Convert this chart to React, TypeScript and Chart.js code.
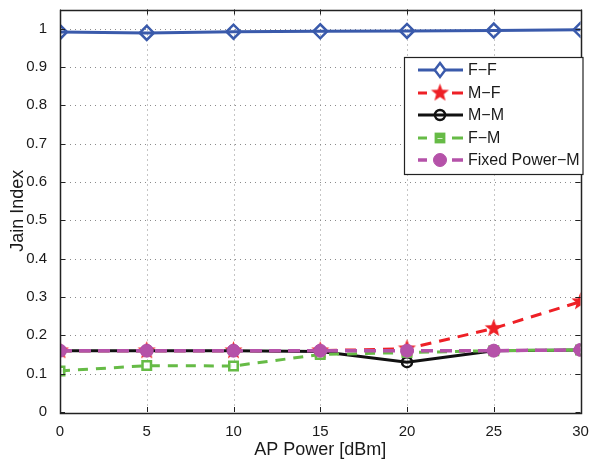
import { useEffect, useRef } from 'react';
import { Chart, registerables } from 'chart.js';

Chart.register(...registerables);

const apPower = [0, 5, 10, 15, 20, 25, 30];
const seriesNames = ['F\u2212F', 'M\u2212F', 'M\u2212M', 'F\u2212M', 'Fixed Power\u2212M'];
const ffValues = [0.991, 0.989, 0.992, 0.993, 0.994, 0.995, 0.997];
const mfValues = [0.16, 0.16, 0.16, 0.16, 0.165, 0.218, 0.288];
const mmValues = [0.16, 0.16, 0.16, 0.158, 0.13, 0.16, 0.162];
const fmValues = [0.107, 0.121, 0.12, 0.15, 0.155, 0.16, 0.162];
const fixedValues = [0.16, 0.16, 0.16, 0.16, 0.16, 0.16, 0.162];
const xTickValues = [0, 5, 10, 15, 20, 25, 30];
const yTickValues = [0, 0.1, 0.2, 0.3, 0.4, 0.5, 0.6, 0.7, 0.8, 0.9, 1];

const BLUE = '#3a5aab';
const RED = '#ee2026';
const BLACK = '#111111';
const GREEN = '#66bb46';
const MAGENTA = '#b552a9';
const FONT = "'Liberation Sans', Arial, Helvetica, sans-serif";

function makeStar(color: string, r: number): HTMLCanvasElement {
  const c = document.createElement('canvas');
  const size = Math.ceil(r * 2 + 2);
  c.width = size;
  c.height = size;
  const ctx = c.getContext('2d')!;
  const cx = size / 2;
  const cy = size / 2;
  ctx.beginPath();
  for (let i = 0; i < 10; i++) {
    const ang = -Math.PI / 2 + (i * Math.PI) / 5;
    const rad = i % 2 === 0 ? r : r * 0.42;
    const x = cx + rad * Math.cos(ang);
    const y = cy + rad * Math.sin(ang);
    if (i === 0) ctx.moveTo(x, y);
    else ctx.lineTo(x, y);
  }
  ctx.closePath();
  ctx.fillStyle = color;
  ctx.fill();
  return c;
}

export default function App() {
  const ref = useRef<HTMLCanvasElement>(null);

  useEffect(() => {
    const canvas = ref.current!;
    const star = makeStar(RED, 9.5);

    const frame = {
      id: 'frame',
      beforeDatasetsDraw(chart: any) {
        const { ctx, chartArea: a, scales } = chart;
        ctx.save();
        ctx.strokeStyle = '#8a8a8a';
        ctx.lineWidth = 1;
        ctx.setLineDash([1, 4]);
        xTickValues.forEach((v) => {
          const x = Math.round(scales.x.getPixelForValue(v)) + 0.5;
          if (v === 0 || v === 30) return;
          ctx.beginPath();
          ctx.moveTo(x, a.top);
          ctx.lineTo(x, a.bottom);
          ctx.stroke();
        });
        yTickValues.forEach((v) => {
          if (v === 0) return;
          const y = Math.round(scales.y.getPixelForValue(v)) + 0.5;
          ctx.beginPath();
          ctx.moveTo(a.left, y);
          ctx.lineTo(a.right, y);
          ctx.stroke();
        });
        ctx.restore();
      },
      afterDraw(chart: any) {
        const { ctx, chartArea: a, scales } = chart;
        ctx.save();
        ctx.strokeStyle = '#222';
        ctx.lineWidth = 1;
        ctx.setLineDash([]);
        xTickValues.forEach((v) => {
          const x = Math.round(scales.x.getPixelForValue(v)) + 0.5;
          ctx.beginPath();
          ctx.moveTo(x, a.bottom);
          ctx.lineTo(x, a.bottom - 5);
          ctx.moveTo(x, a.top);
          ctx.lineTo(x, a.top + 5);
          ctx.stroke();
        });
        yTickValues.forEach((v) => {
          const y = Math.round(scales.y.getPixelForValue(v)) + 0.5;
          ctx.beginPath();
          ctx.moveTo(a.left, y);
          ctx.lineTo(a.left + 5, y);
          ctx.moveTo(a.right, y);
          ctx.lineTo(a.right - 5, y);
          ctx.stroke();
        });
        ctx.lineWidth = 1.5;
        ctx.strokeRect(Math.round(a.left) + 0.5, Math.round(a.top) + 0.5, Math.round(a.right - a.left), Math.round(a.bottom - a.top));

        // legend
        const lx = 404.5;
        const ly = 57.5;
        const lw = 178.5;
        const lh = 117;
        ctx.fillStyle = '#ffffff';
        ctx.fillRect(lx, ly, lw, lh);
        ctx.strokeStyle = '#222';
        ctx.lineWidth = 1.2;
        ctx.strokeRect(lx, ly, lw, lh);
        const rowY = [70, 93, 115, 138, 160];
        chart.data.datasets.forEach((ds: any, i: number) => {
          const y = rowY[i];
          ctx.save();
          ctx.strokeStyle = ds.borderColor;
          ctx.lineWidth = ds.borderWidth;
          ctx.setLineDash([]);
          ctx.beginPath();
          if (ds.borderDash) {
            ctx.moveTo(418, y);
            ctx.lineTo(427, y);
            ctx.moveTo(452, y);
            ctx.lineTo(463, y);
          } else {
            ctx.moveTo(418, y);
            ctx.lineTo(463, y);
          }
          ctx.stroke();
          const cx = 440;
          const ps = ds.pointStyle;
          const r = ds.pointRadius;
          ctx.lineWidth = ds.pointBorderWidth;
          ctx.strokeStyle = ds.pointBorderColor;
          ctx.fillStyle = ds.pointBackgroundColor;
          if (ps instanceof HTMLCanvasElement) {
            ctx.drawImage(ps, cx - ps.width / 2, y - ps.height / 2);
          } else if (ps === 'rectRot') {
            ctx.beginPath();
            ctx.moveTo(cx, y - r);
            ctx.lineTo(cx + r * 0.75, y);
            ctx.lineTo(cx, y + r);
            ctx.lineTo(cx - r * 0.75, y);
            ctx.closePath();
            ctx.fillStyle = '#ffffff';
            ctx.fill();
            ctx.stroke();
          } else if (ps === 'rect') {
            const s = r * 0.9;
            ctx.fillStyle = GREEN;
            ctx.fillRect(cx - s, y - s, s * 2, s * 2);
            ctx.strokeStyle = '#d8eecd';
            ctx.lineWidth = 1;
            ctx.beginPath();
            ctx.moveTo(cx - 2.5, y + 0.5);
            ctx.lineTo(cx + 2.5, y + 0.5);
            ctx.stroke();
          } else {
            ctx.beginPath();
            ctx.arc(cx, y, r, 0, Math.PI * 2);
            if (ds.pointBackgroundColor !== 'rgba(0,0,0,0)') ctx.fill();
            ctx.stroke();
          }
          ctx.restore();
          ctx.fillStyle = '#1a1a1a';
          ctx.font = `16px ${FONT}`;
          ctx.textBaseline = 'middle';
          ctx.textAlign = 'left';
          ctx.fillText(ds.label, 468, y + 1);
        });
        ctx.restore();
      },
    };

    const chart = new Chart(canvas, {
      type: 'line',
      data: {
        datasets: [
          {
            label: seriesNames[0],
            data: apPower.map((x, i) => ({ x, y: ffValues[i] })),
            borderColor: BLUE,
            borderWidth: 3,
            pointStyle: 'rectRot',
            pointRadius: 7,
            pointBorderWidth: 2.5,
            pointBorderColor: BLUE,
            pointBackgroundColor: 'rgba(0,0,0,0)',
            order: 4,
          },
          {
            label: seriesNames[1],
            data: apPower.map((x, i) => ({ x, y: mfValues[i] })),
            borderColor: RED,
            borderWidth: 3,
            borderDash: [11, 8],
            pointStyle: star,
            pointRadius: 9,
            pointBorderWidth: 0,
            pointBorderColor: RED,
            pointBackgroundColor: RED,
            order: 3,
          },
          {
            label: seriesNames[2],
            data: apPower.map((x, i) => ({ x, y: mmValues[i] })),
            borderColor: BLACK,
            borderWidth: 3,
            pointStyle: 'circle',
            pointRadius: 5,
            pointBorderWidth: 2.5,
            pointBorderColor: BLACK,
            pointBackgroundColor: 'rgba(0,0,0,0)',
            order: 2,
          },
          {
            label: seriesNames[3],
            data: apPower.map((x, i) => ({ x, y: fmValues[i] })),
            borderColor: GREEN,
            borderWidth: 3,
            borderDash: [10, 8],
            pointStyle: 'rect',
            pointRadius: 6,
            pointBorderWidth: 2.5,
            pointBorderColor: GREEN,
            pointBackgroundColor: 'rgba(255,255,255,0.85)',
            order: 1,
          },
          {
            label: seriesNames[4],
            data: apPower.map((x, i) => ({ x, y: fixedValues[i] })),
            borderColor: MAGENTA,
            borderWidth: 3.5,
            borderDash: [12, 7],
            pointStyle: 'circle',
            pointRadius: 6.5,
            pointBorderWidth: 1,
            pointBorderColor: MAGENTA,
            pointBackgroundColor: MAGENTA,
            order: 0,
          },
        ],
      },
      options: {
        responsive: false,
        animation: false,
        maintainAspectRatio: false,
        layout: { padding: { top: 2, right: 8, left: 0, bottom: 0 } },
        plugins: {
          legend: { display: false },
          tooltip: { enabled: false },
        },
        scales: {
          x: {
            type: 'linear',
            min: 0,
            max: 30,
            afterBuildTicks: (s: any) => {
              s.ticks = xTickValues.map((v) => ({ value: v }));
            },
            afterFit: (s: any) => {
              s.height = 51;
              s.paddingLeft = 0;
              s.paddingRight = 0;
            },
            grid: { display: false },
            border: { display: false },
            ticks: {
              color: '#1a1a1a',
              font: { family: FONT, size: 15 },
              padding: 3,
              maxRotation: 0,
              callback: (v: any) => String(v),
            },
            title: {
              display: true,
              text: 'AP Power [dBm]',
              color: '#1a1a1a',
              font: { family: FONT, size: 18 },
              padding: { top: 0, bottom: 2 },
            },
          },
          y: {
            type: 'linear',
            min: 0,
            max: 1.05,
            afterBuildTicks: (s: any) => {
              s.ticks = yTickValues.map((v) => ({ value: v }));
            },
            afterFit: (s: any) => {
              s.width = 60;
              s.paddingTop = 0;
              s.paddingBottom = 0;
            },
            grid: { display: false },
            border: { display: false },
            ticks: {
              color: '#1a1a1a',
              font: { family: FONT, size: 15 },
              padding: 5,
              callback: (v: any) => String(Number(Number(v).toFixed(1))),
            },
            title: {
              display: true,
              text: 'Jain Index',
              color: '#1a1a1a',
              font: { family: FONT, size: 18 },
              padding: { top: 7, bottom: 0 },
            },
          },
        },
      },
      plugins: [frame],
    } as any);

    return () => chart.destroy();
  }, []);

  return (
    <div style={{ position: 'absolute', left: 0, top: 0, width: 590, height: 463, background: '#fff' }}>
      <canvas ref={ref} width={590} height={463} style={{ width: 590, height: 463, display: 'block' }} />
    </div>
  );
}
